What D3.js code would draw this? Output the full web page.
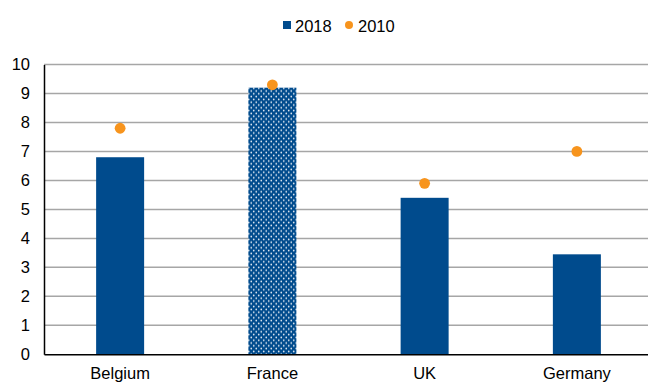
<!DOCTYPE html>
<html>
<head>
<meta charset="utf-8">
<script src="https://cdn.jsdelivr.net/npm/d3@7"></script>
<style>
  html, body { margin: 0; padding: 0; background: #fff; }
  svg { display: block; font-family: "Liberation Sans", Arial, sans-serif; }
</style>
</head>
<body>
<svg id="chart" width="648" height="383"></svg>
<script>
// Chart data
const categories = ["Belgium", "France", "UK", "Germany"];
const values2018 = [6.8, 9.2, 5.4, 3.45];
const values2010 = [7.8, 9.3, 5.9, 7.0];
const yTicks = [0, 1, 2, 3, 4, 5, 6, 7, 8, 9, 10];
const seriesNames = ["2018", "2010"];
const patternedCategory = "France";

const blue = "#004b8d";
const orange = "#f7941d";
const fontSize = 16.5;

const svg = d3.select("#chart");
const margin = { left: 44, top: 64.5, bottom: 354.3 };

const x = d3.scaleBand()
  .domain(categories)
  .range([margin.left, 653])
  .paddingInner(0)
  .paddingOuter(0);

const y = d3.scaleLinear()
  .domain([0, 10])
  .range([margin.bottom, margin.top]);

// Dotted fill for the highlighted bar
const defs = svg.append("defs");
const pat = defs.append("pattern")
  .attr("id", "dots")
  .attr("patternUnits", "userSpaceOnUse")
  .attr("width", 5)
  .attr("height", 5.6);
pat.append("rect").attr("width", 5).attr("height", 5.6).attr("fill", blue);
pat.append("circle").attr("cx", 1.25).attr("cy", 1.4).attr("r", 0.85).attr("fill", "#e8eef6");
pat.append("circle").attr("cx", 3.75).attr("cy", 4.2).attr("r", 0.85).attr("fill", "#e8eef6");

// Horizontal gridlines
svg.append("g")
  .selectAll("line")
  .data(yTicks.filter(d => d > 0))
  .join("line")
  .attr("x1", margin.left)
  .attr("x2", 653)
  .attr("y1", d => y(d))
  .attr("y2", d => y(d))
  .attr("stroke", "#a6a6a6")
  .attr("stroke-width", 1.5);

// Bars
const barWidth = 48;
svg.append("g")
  .selectAll("rect")
  .data(categories)
  .join("rect")
  .attr("x", d => x(d) + x.bandwidth() / 2 - barWidth / 2)
  .attr("width", barWidth)
  .attr("y", (d, i) => y(values2018[i]))
  .attr("height", (d, i) => y(0) - y(values2018[i]))
  .attr("fill", d => d === patternedCategory ? "url(#dots)" : blue);

// 2010 markers
svg.append("g")
  .selectAll("circle")
  .data(categories)
  .join("circle")
  .attr("cx", d => x(d) + x.bandwidth() / 2)
  .attr("cy", (d, i) => y(values2010[i]))
  .attr("r", 5.4)
  .attr("fill", orange);

// Y axis
const yAxis = svg.append("g")
  .attr("transform", `translate(${margin.left},0)`)
  .call(d3.axisLeft(y).tickValues(yTicks).tickSize(0).tickPadding(14).tickFormat(d3.format("d")));
yAxis.select(".domain").attr("stroke", "#000").attr("stroke-width", 1.5);
yAxis.selectAll("text")
  .attr("font-size", fontSize)
  .attr("fill", "#000")
  .attr("font-family", "'Liberation Sans', Arial, sans-serif");

// X axis
const xAxis = svg.append("g")
  .attr("transform", `translate(0,${margin.bottom})`)
  .call(d3.axisBottom(x).tickSize(0).tickPadding(0));
xAxis.select(".domain").attr("stroke", "#000").attr("stroke-width", 1.5);
xAxis.selectAll("text")
  .attr("dy", null)
  .attr("y", 25)
  .attr("font-size", fontSize)
  .attr("fill", "#000")
  .attr("font-family", "'Liberation Sans', Arial, sans-serif");

// Legend
const legend = svg.append("g");
legend.append("rect")
  .attr("x", 283).attr("y", 21).attr("width", 8).attr("height", 8)
  .attr("fill", blue);
legend.append("text")
  .attr("x", 295).attr("y", 31.5)
  .attr("font-size", fontSize).attr("fill", "#000")
  .text(seriesNames[0]);
legend.append("circle")
  .attr("cx", 349).attr("cy", 25).attr("r", 4)
  .attr("fill", orange);
legend.append("text")
  .attr("x", 358).attr("y", 31.5)
  .attr("font-size", fontSize).attr("fill", "#000")
  .text(seriesNames[1]);
</script>
</body>
</html>
